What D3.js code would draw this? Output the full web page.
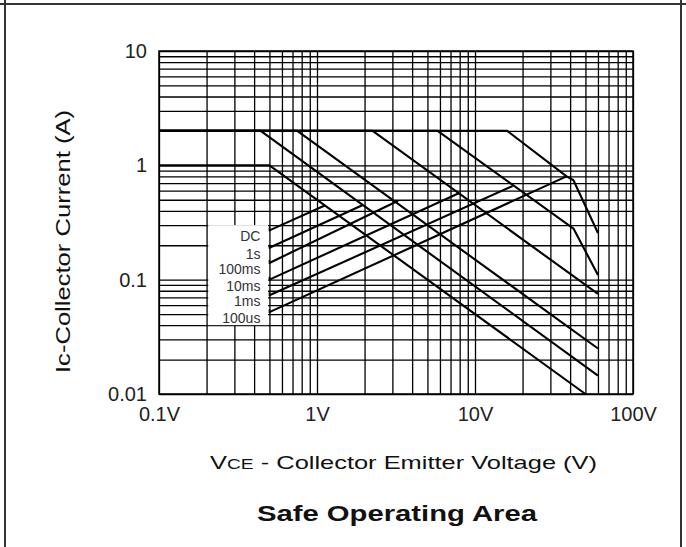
<!DOCTYPE html>
<html>
<head>
<meta charset="utf-8">
<script src="https://cdn.jsdelivr.net/npm/d3@7"></script>
<style>
  html, body { margin: 0; padding: 0; background: #fff; }
  svg { display: block; font-family: Arial, "Liberation Sans", Helvetica, sans-serif; }
</style>
</head>
<body>
<div id="chart"></div>
<script>
// axis ranges and tick labels
const xDomain = [0.1, 100];
const yDomain = [0.01, 10];
const xTickValues = [0.1, 1, 10, 100];
const xTickLabels = ["0.1V", "1V", "10V", "100V"];
const yTickValues = [0.01, 0.1, 1, 10];
const yTickLabels = ["0.01", "0.1", "1", "10"];

// safe operating area limits, [VCE (V), IC (A)]
const curveNames = ["DC", "1s", "100ms", "10ms", "1ms", "100us"];
const curveDC    = [[0.1, 1], [0.5, 1], [50, 0.01]];
const curve1s    = [[0.1, 2], [0.44, 2], [60, 0.0145]];
const curve100ms = [[0.1, 2], [0.75, 2], [60, 0.025]];
const curve10ms  = [[0.1, 2], [2.25, 2], [60, 0.075]];
const curve1ms   = [[0.1, 2], [5.8, 2], [42, 0.28], [60, 0.11]];
const curve100us = [[0.1, 2], [16, 2], [38, 0.8], [42, 0.74], [60, 0.256]];

// leader lines running from each label
const leaderStartV = [0.5, 0.5, 0.5, 0.5, 0.5, 0.5];
const leaderStartI = [0.27, 0.19, 0.14, 0.1, 0.073, 0.052];
const leaderEndV = [1.12, 1.95, 3.26, 7.95, 17.3, 38];
const leaderEndI = [0.446, 0.45, 0.49, 0.573, 0.66, 0.8];

(function () {
  const W = 686, H = 547;
  const plot = { left: 159, right: 633, top: 51, bottom: 394 };

  const svg = d3.select("#chart").append("svg")
    .attr("width", W)
    .attr("height", H)
    .attr("viewBox", `0 0 ${W} ${H}`);

  // outer frame
  svg.append("line").attr("x1", 0).attr("x2", W).attr("y1", 4).attr("y2", 4)
    .attr("stroke", "#333").attr("stroke-width", 2);
  svg.append("line").attr("x1", 5).attr("x2", 5).attr("y1", 0).attr("y2", H)
    .attr("stroke", "#333").attr("stroke-width", 2);
  svg.append("line").attr("x1", 681).attr("x2", 681).attr("y1", 0).attr("y2", H)
    .attr("stroke", "#333").attr("stroke-width", 2);

  const x = d3.scaleLog().domain(xDomain).range([plot.left, plot.right]);
  const y = d3.scaleLog().domain(yDomain).range([plot.bottom, plot.top]);
  const innerH = plot.bottom - plot.top;
  const innerW = plot.right - plot.left;

  // grid (every 1..9 of each decade)
  const gx = svg.append("g")
    .attr("transform", `translate(0,${plot.bottom})`)
    .call(d3.axisBottom(x).tickValues(x.ticks()).tickSize(-innerH).tickFormat(""));
  const gy = svg.append("g")
    .attr("transform", `translate(${plot.left},0)`)
    .call(d3.axisLeft(y).tickValues(y.ticks()).tickSize(-innerW).tickFormat(""));
  [gx, gy].forEach(g => {
    g.select(".domain").remove();
    g.selectAll(".tick line").attr("stroke", "#000").attr("stroke-width", 1.3);
  });

  svg.append("rect")
    .attr("x", plot.left).attr("y", plot.top)
    .attr("width", innerW).attr("height", innerH)
    .attr("fill", "none").attr("stroke", "#000").attr("stroke-width", 1.5);

  // white box behind the labels
  svg.append("rect")
    .attr("x", x(0.205)).attr("y", y(0.3))
    .attr("width", x(0.49) - x(0.205))
    .attr("height", y(0.04) - y(0.3))
    .attr("fill", "#fff");

  // limit curves
  const curves = [curveDC, curve1s, curve100ms, curve10ms, curve1ms, curve100us];
  const line = d3.line().x(d => x(d[0])).y(d => y(d[1]));
  svg.append("g").selectAll("path")
    .data(curves)
    .enter()
    .append("path")
    .attr("d", line)
    .attr("fill", "none")
    .attr("stroke", "#000")
    .attr("stroke-width", 2.1)
    .attr("stroke-linejoin", "round");

  // leader lines + labels
  const leaders = curveNames.map((name, i) => ({
    name,
    v0: leaderStartV[i], i0: leaderStartI[i],
    v1: leaderEndV[i], i1: leaderEndI[i]
  }));
  const lg = svg.append("g");
  lg.selectAll("line.leader")
    .data(leaders)
    .enter()
    .append("line")
    .attr("class", "leader")
    .attr("x1", d => x(d.v0)).attr("y1", d => y(d.i0))
    .attr("x2", d => x(d.v1)).attr("y2", d => y(d.i1))
    .attr("stroke", "#000").attr("stroke-width", 2.1);
  lg.selectAll("line.tick")
    .data(leaders)
    .enter()
    .append("line")
    .attr("class", "tick")
    .attr("x1", d => x(d.v0)).attr("y1", d => y(d.i0) - 3)
    .attr("x2", d => x(d.v0)).attr("y2", d => y(d.i0) + 1)
    .attr("stroke", "#000").attr("stroke-width", 1.5);
  lg.selectAll("text")
    .data(leaders)
    .enter()
    .append("text")
    .attr("x", d => x(d.v0) - 9)
    .attr("y", d => y(d.i0) + 11)
    .attr("text-anchor", "end")
    .attr("font-size", 14)
    .attr("fill", "#333")
    .text(d => d.name);

  // tick labels
  const ax = svg.append("g")
    .attr("transform", `translate(0,${plot.bottom})`)
    .call(d3.axisBottom(x).tickValues(xTickValues).tickSize(0).tickPadding(13)
      .tickFormat((d, i) => xTickLabels[i]));
  const ay = svg.append("g")
    .attr("transform", `translate(${plot.left},0)`)
    .call(d3.axisLeft(y).tickValues(yTickValues).tickSize(0).tickPadding(12)
      .tickFormat((d, i) => yTickLabels[i]));
  [ax, ay].forEach(g => {
    g.select(".domain").remove();
    g.selectAll("text")
      .attr("font-family", "Arial, 'Liberation Sans', sans-serif")
      .attr("font-size", 20)
      .attr("fill", "#222");
  });

  // axis titles
  const xt = svg.append("text")
    .attr("x", 210).attr("y", 469)
    .attr("font-size", 18.5)
    .attr("fill", "#111")
    .attr("textLength", 387)
    .attr("lengthAdjust", "spacingAndGlyphs");
  xt.append("tspan").text("V");
  xt.append("tspan").attr("font-size", 14).text("CE");
  xt.append("tspan").text(" - Collector Emitter Voltage (V)");

  svg.append("text")
    .attr("transform", "translate(70,373) rotate(-90)")
    .attr("font-size", 20)
    .attr("fill", "#111")
    .attr("textLength", 263)
    .attr("lengthAdjust", "spacingAndGlyphs")
    .text("Ic-Collector Current (A)");

  svg.append("text")
    .attr("x", 257).attr("y", 521)
    .attr("font-size", 22.5)
    .attr("font-weight", "bold")
    .attr("fill", "#111")
    .attr("textLength", 280)
    .attr("lengthAdjust", "spacingAndGlyphs")
    .text("Safe Operating Area");
})();
</script>
</body>
</html>
